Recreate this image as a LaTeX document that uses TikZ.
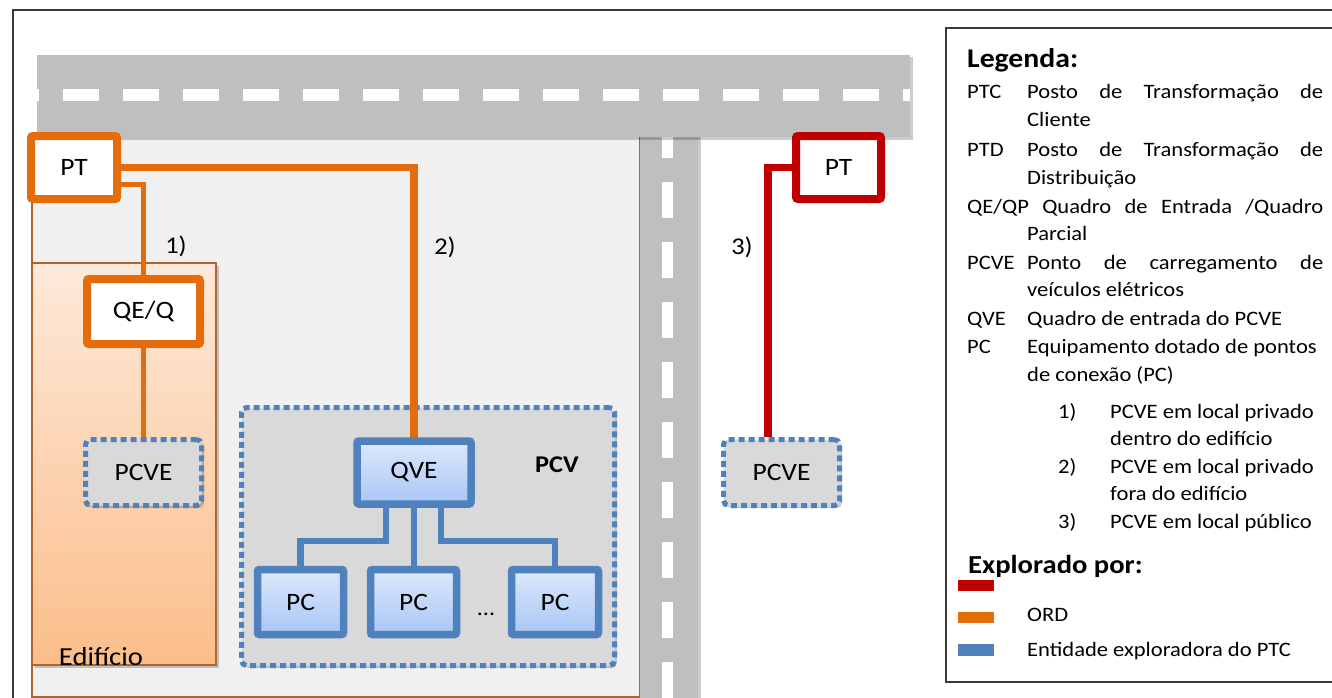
\documentclass[tikz,border=0pt]{standalone}
\usepackage{fontspec}
\setmainfont[FakeStretch=1.1]{Carlito}
\usetikzlibrary{shadows,calc}
\definecolor{ora}{HTML}{E46C0A}
\definecolor{redc}{HTML}{C00000}
\definecolor{blu}{HTML}{4F81BD}
\definecolor{roadgray}{HTML}{BFBFBF}
\definecolor{privgray}{HTML}{F0F0F0}
\definecolor{pcvegray}{HTML}{D9D9D9}
\definecolor{brn}{HTML}{B0642D}
\definecolor{framec}{HTML}{3A3A3A}
\definecolor{edtop}{HTML}{FDE9DA}
\definecolor{edbot}{HTML}{FBBE8A}
\definecolor{qtop}{HTML}{DDE8FB}
\definecolor{qbot}{HTML}{A9C6F6}
\pgfdeclarelayer{bg}
\pgfdeclarelayer{lines}
\pgfsetlayers{bg,lines,main}
\tikzset{
  shad/.style={drop shadow={shadow xshift=2.5pt,shadow yshift=-2.5pt,opacity=0.2,fill=black}},
  boxtext/.style={font=\fontsize{25}{30}\selectfont},
  orbox/.style={boxtext,draw=ora,line width=8pt,fill=white,rounded corners=2pt,inner sep=0pt,shad},
  redbox/.style={boxtext,draw=redc,line width=8pt,fill=white,rounded corners=2pt,inner sep=0pt,shad},
  bluebox/.style={boxtext,draw=blu,line width=7.5pt,top color=qtop,bottom color=qbot,rounded corners=2pt,inner sep=0pt,shad},
  dotbox/.style={boxtext,draw=blu,line width=5pt,dash pattern=on 6pt off 4pt,fill=pcvegray,rounded corners=5pt,inner sep=0pt,shad},
  lab/.style={font=\fontsize{24}{28}\selectfont,inner sep=0pt},
  leg/.style={anchor=base west,inner sep=0pt,font=\fontsize{20.5}{25}\selectfont},
  legh/.style={anchor=base west,inner sep=0pt,font=\bfseries\fontsize{27}{32}\selectfont},
  oline/.style={draw=ora,line width=7.5pt},
  othin/.style={draw=ora,line width=5.5pt},
  rline/.style={draw=redc,line width=7.5pt},
  bline/.style={draw=blu,line width=6.5pt}
}
\begin{document}
\begin{tikzpicture}[x=1pt,y=-1pt]
\useasboundingbox (0,0) rectangle (1332,698);
\begin{pgfonlayer}{bg}
  \fill[white] (0,0) rectangle (1332,698);
  \draw[framec,line width=2pt] (13,720) -- (13,10) -- (1350,10);
  \draw[brn,line width=1.2pt,fill=privgray] (32,134) rectangle (640,697);
  \fill[roadgray,shad] (640,120) rectangle (698,730);
  \draw[white,line width=11pt,dash pattern=on 36pt off 24pt,dash phase=15pt] (667.5,137) -- (667.5,730);
  \fill[roadgray,shad] (37,55) rectangle (910,137);
  \draw[white,line width=12pt,dash pattern=on 36pt off 24pt,dash phase=34pt] (37,95.5) -- (910,95.5);
  \draw[brn,line width=1.2pt,top color=edtop,bottom color=edbot,shad] (32,263) rectangle (216,665);
  \node[lab,font=\fontsize{26}{30}\selectfont] (edif) at (101,657) {Edifício};
  % PCV area
  \node[dotbox,minimum width=373pt,minimum height=258pt] (pcv) at (428,536.5) {};
  \node[inner sep=0pt,font=\bfseries\fontsize{24}{28}\selectfont] (pcvlab) at (557,465) {PCV};
\end{pgfonlayer}

% boxes
\node[orbox,minimum width=86pt,minimum height=63pt] (ptL) at (74,167.5) {PT};
\node[orbox,minimum width=113pt,minimum height=65pt] (qeq) at (143.5,311.5) {QE/Q};
\node[dotbox,minimum width=116pt,minimum height=66pt] (pcveL) at (143.5,472.5) {PCVE};
\node[bluebox,minimum width=114pt,minimum height=63pt] (qve) at (414,472.5) {QVE};
\node[bluebox,minimum width=86pt,minimum height=65pt] (pc1) at (300.5,602) {PC};
\node[bluebox,minimum width=86pt,minimum height=65pt] (pc2) at (413.5,602) {PC};
\node[bluebox,minimum width=87pt,minimum height=65pt] (pc3) at (555,602) {PC};
\node[inner sep=0pt,font=\fontsize{22}{26}\selectfont] (dots) at (486,614) {...};
\node[redbox,minimum width=85pt,minimum height=63pt] (ptR) at (838.5,167.5) {PT};
\node[dotbox,minimum width=116pt,minimum height=66pt] (pcveR) at (781.5,472.5) {PCVE};

% labels
\node[lab] (n1) at (176,246) {1)};
\node[lab] (n2) at (445,247) {2)};
\node[lab] (n3) at (742,247) {3)};

% connectors
\begin{pgfonlayer}{lines}
  \draw[othin] ([yshift=-17pt]ptL.east) -| (qeq.north);
  \draw[othin] (qeq.south) -- (pcveL.north);
  \draw[oline] (ptL.east) -| ([yshift=-3pt]qve.north);
  \draw[rline] (ptR.west) -| ([xshift=-13.5pt]pcveR.north);
  \draw[bline] ([xshift=-28pt]qve.south) -- ++(0,33) -| (pc1.north);
  \draw[bline] (qve.south) -- (qve.south |- pc2.north);
  \draw[bline] ([xshift=27pt]qve.south) -- ++(0,33) -| (pc3.north);
\end{pgfonlayer}

% legend
\draw[framec,line width=2pt,fill=white] (946,28) rectangle (1350,682);
\node[legh] (lh) at (967,68) {Legenda:};
\node[leg] (a1) at (967,99) {PTC};
\node[leg] (a2) at (1027,99) {\makebox[296pt][s]{Posto de Transformação de}};
\node[leg] (a3) at (1027,127) {Cliente};
\node[leg] (b1) at (967,157) {PTD};
\node[leg] (b2) at (1027,157) {\makebox[296pt][s]{Posto de Transformação de}};
\node[leg] (b3) at (1027,184) {Distribuição};
\node[leg] (c1) at (967,213) {\makebox[356pt][s]{QE/QP Quadro de Entrada /Quadro}};
\node[leg] (c3) at (1027,240) {Parcial};
\node[leg] (d1) at (967,269) {PCVE};
\node[leg] (d2) at (1027,269) {\makebox[296pt][s]{Ponto de carregamento de}};
\node[leg] (d3) at (1027,296) {veículos elétricos};
\node[leg] (e1) at (967,325) {QVE};
\node[leg] (e2) at (1027,325) {Quadro de entrada do PCVE};
\node[leg] (f1) at (967,353) {PC};
\node[leg] (f2) at (1027,353) {Equipamento dotado de pontos};
\node[leg] (f3) at (1027,381) {de conexão (PC)};
\node[leg] (g1) at (1058,418) {1)};
\node[leg] (g2) at (1110,418) {PCVE em local privado};
\node[leg] (g3) at (1110,445) {dentro do edifício};
\node[leg] (h1) at (1058,473) {2)};
\node[leg] (h2) at (1110,473) {PCVE em local privado};
\node[leg] (h3) at (1110,500) {fora do edifício};
\node[leg] (i1) at (1058,528) {3)};
\node[leg] (i2) at (1110,528) {PCVE em local público};
\node[legh,font=\bfseries\fontsize{26}{31}\selectfont] (xh) at (968,573) {Explorado por:};
\fill[redc] (958,580) rectangle (994,591);
\fill[ora] (958,612) rectangle (994,623);
\fill[blu] (958,644) rectangle (994,656);
\node[leg] (ord) at (1027,621) {ORD};
\node[leg] (ent) at (1027,656) {Entidade exploradora do PTC};
\end{tikzpicture}
\end{document}
